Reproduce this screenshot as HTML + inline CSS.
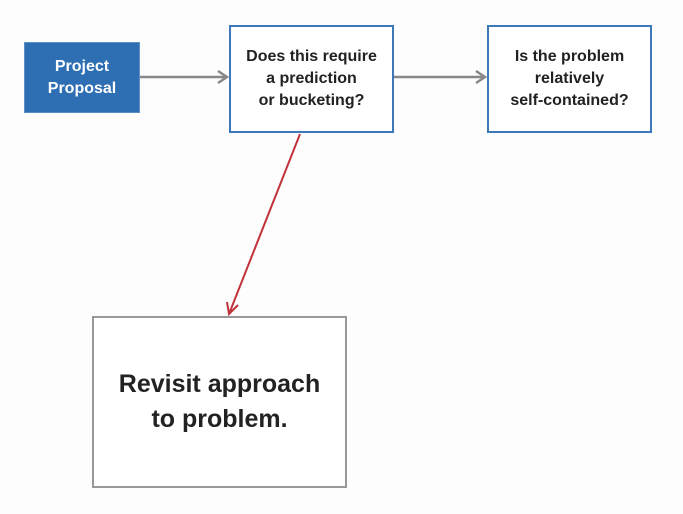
<!DOCTYPE html>
<html><head><style>
html,body{margin:0;padding:0;background:#fdfdfd;}
body{width:683px;height:514px;position:relative;overflow:hidden;font-family:"Liberation Sans",sans-serif;}
.b{position:absolute;box-sizing:border-box;display:flex;align-items:center;justify-content:center;text-align:center;}
</style></head><body>
<div class="b" style="left:24px;top:42px;width:116px;height:71px;background:#2e6fb4;border:1px solid #5a8fc8;color:#fff;font-size:16px;font-weight:bold;line-height:22px;">Project<br>Proposal</div>
<div class="b" style="left:229px;top:25px;width:165px;height:108px;border:2px solid #3d78b8;background:#fff;color:#222;font-size:16px;line-height:22px;font-weight:bold;">Does this require<br>a prediction<br>or bucketing?</div>
<div class="b" style="left:487px;top:25px;width:165px;height:108px;border:2px solid #3d78b8;background:#fff;color:#222;font-size:16px;line-height:22px;font-weight:bold;">Is the problem<br>relatively<br>self-contained?</div>
<div class="b" style="left:92px;top:316px;width:255px;height:172px;border:2px solid #999;background:#fff;color:#222;font-size:25px;line-height:35px;font-weight:bold;">Revisit approach<br>to problem.</div>
<svg width="683" height="514" style="position:absolute;left:0;top:0">
<g stroke="#888" stroke-width="2.5" fill="none">
<line x1="140" y1="77" x2="227" y2="77"/><polyline points="218,71 227,77 218,83"/>
<line x1="394" y1="77" x2="485" y2="77"/><polyline points="476,71 485,77 476,83"/>
</g>
<g stroke="#c0333a" stroke-width="2" fill="none">
<line x1="300" y1="134" x2="229" y2="314"/><polyline points="227,302 229,314 238,305"/>
</g>
</svg>
</body></html>
